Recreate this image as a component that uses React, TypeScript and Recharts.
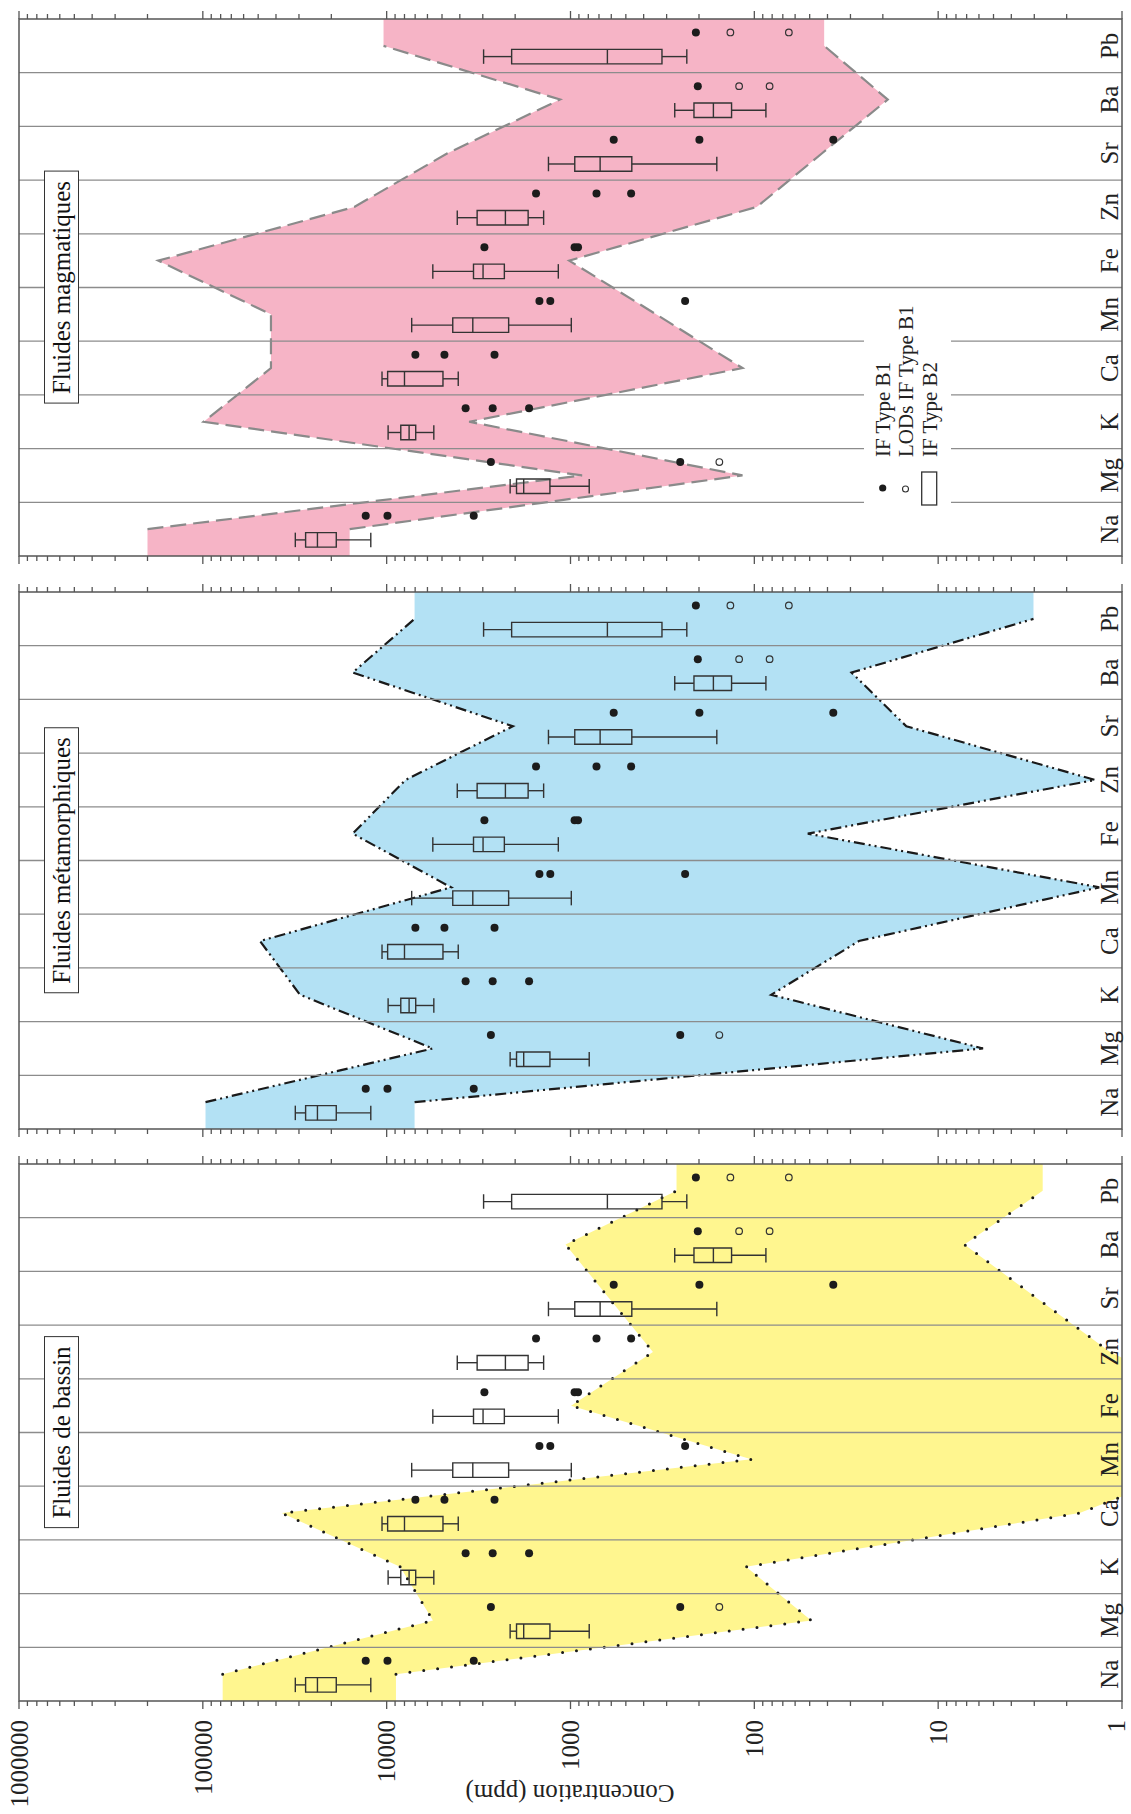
import React from 'react';
import {
  Area,
  ComposedChart,
  ReferenceArea,
  ReferenceLine,
  Scatter,
  XAxis,
  YAxis
} from 'recharts';

const elements = ['Na', 'Mg', 'K', 'Ca', 'Mn', 'Fe', 'Zn', 'Sr', 'Ba', 'Pb'];
const decades = [1, 10, 100, 1000, 10000, 100000, 1000000];

// IF Type B2 box plots (ppm)
const b2Min = [12200, 791, 5540, 4080, 990, 1165, 1400, 160, 86.5, 233];
const b2Q1 = [18800, 1294, 6950, 4940, 2170, 2290, 1700, 464, 133, 318];
const b2Median = [23800, 1797, 7550, 8000, 3400, 2990, 2260, 690, 167, 630];
const b2Q3 = [27600, 1966, 8380, 9880, 4370, 3370, 3220, 948, 213, 2090];
const b2Max = [31400, 2130, 9820, 10600, 7310, 5610, 4130, 1318, 271, 2970];

// IF Type B1 analyses and detection limits (ppm)
const b1Values = [
  [13000, 9900, 3360],
  [2710, 253],
  [3720, 2650, 1680],
  [6980, 4850, 2590],
  [1476, 1288, 238],
  [2940, 950, 910],
  [1540, 722, 468],
  [582, 199, 37.2],
  [203],
  [208]
];
const b1Lods = [[], [155], [], [], [], [], [], [], [121, 82.6], [135, 64.9]];

// reference envelopes (upper / lower limit per element)
const bassinHigh = [78000, 5600, 8450, 37200, 104, 993, 356, 617, 1064, 265];
const bassinLow = [8900, 49, 111, 1.7, 0.3, 0.3, 1.16, 2.9, 7.2, 2.7];
const metaHigh = [96700, 5610, 29600, 48900, 4460, 15300, 7900, 2060, 15300, 7050];
const metaLow = [7050, 5.7, 80.9, 27, 1.33, 51.2, 1.4, 14.9, 29.6, 3.03];
const magHigh = [200000, 865, 99000, 42600, 42600, 175000, 15000, 4670, 1140, 10400];
const magLow = [15900, 116, 3560, 116, 342, 1016, 97, 42.8, 18.8, 41.7];

const FONT = "'Liberation Serif', 'Times New Roman', serif";
const BOX_POS = 0.3;
const DOT_POS = 0.75;
const HALF = 0.135;

const logTicks = decades.flatMap((d) => (d === 1000000 ? [d] : [1, 2, 3, 4, 5, 6, 7, 8, 9].map((m) => m * d)));
const centres = elements.map((_, i) => i + 0.5);

const filled = b1Values.flatMap((vals, i) => vals.map((y) => ({ x: i + DOT_POS, y })));
const lods = b1Lods.flatMap((vals, i) => vals.map((y) => ({ x: i + DOT_POS, y })));

const FilledDot = (p: any) => <circle cx={p.cx} cy={p.cy} r={4} fill="#1c1c1c" />;
const OpenDot = (p: any) => (
  <circle cx={p.cx} cy={p.cy} r={3.3} fill="none" stroke="#333" strokeWidth={1.2} />
);

const LogTick = (p: any) => {
  const major = decades.includes(p.payload.value);
  const len = major ? 8 : 5;
  const dir = p.side === 'left' ? -1 : 1;
  // keep the "1" label inside the page edge
  const shift = p.payload.value === 1 ? -6 : 0;
  return (
    <g>
      <line x1={p.x} y1={p.y} x2={p.x + dir * len} y2={p.y} stroke="#555" strokeWidth={1.3} />
      {p.labels && major && (
        <text x={p.x - 19} y={p.y + shift} dy="0.35em" textAnchor="end" fontSize={25} fontFamily={FONT} fill="#222">
          {p.payload.value}
        </text>
      )}
    </g>
  );
};

const ElementTick = (p: any) => (
  <text x={p.x} y={p.y - 4} textAnchor="middle" fontSize={25} fontFamily={FONT} fill="#222">
    {elements[Math.floor(p.payload.value)]}
  </text>
);

interface PanelProps {
  high: number[];
  low: number[];
  fill: string;
  stroke: string;
  dash: string;
  strokeWidth: number;
  cap: 'round' | 'butt';
  width: number;
  leftWidth: number;
  rightWidth: number;
  labels?: boolean;
}

const Panel: React.FC<PanelProps> = ({
  high, low, fill, stroke, dash, strokeWidth, cap, width, leftWidth, rightWidth, labels
}) => {
  const fillData = [
    { x: 0, band: [low[0], high[0]] },
    ...elements.map((_, i) => ({ x: i + 0.5, band: [low[i], high[i]] })),
    { x: 10, band: [low[9], high[9]] }
  ];
  const edgeData = elements.map((_, i) => ({ x: i + 0.5, band: [low[i], high[i]] }));

  return (
    <ComposedChart width={width} height={1131} margin={{ top: 19, right: 0, bottom: 8, left: 0 }}>
      <XAxis
        type="number"
        dataKey="x"
        domain={[0, 10]}
        allowDataOverflow
        ticks={centres}
        interval={0}
        height={1}
        axisLine={false}
        tickLine={false}
        tickSize={0}
        tickMargin={0}
        tick={(p: any) => <ElementTick {...p} />}
      />
      <YAxis
        type="number"
        scale="log"
        domain={[1, 1000000]}
        allowDataOverflow
        ticks={logTicks}
        interval={0}
        width={leftWidth}
        axisLine={false}
        tickLine={false}
        tickSize={0}
        tickMargin={0}
        tick={(p: any) => <LogTick {...p} side="left" labels={labels} />}
      />
      <YAxis
        yAxisId="r"
        orientation="right"
        type="number"
        scale="log"
        domain={[1, 1000000]}
        allowDataOverflow
        ticks={logTicks}
        interval={0}
        width={rightWidth}
        axisLine={false}
        tickLine={false}
        tickSize={0}
        tickMargin={0}
        tick={(p: any) => <LogTick {...p} side="right" />}
      />
      <Area
        data={fillData}
        dataKey="band"
        type="linear"
        fill={fill}
        fillOpacity={1}
        stroke="none"
        isAnimationActive={false}
      />
      <Area
        data={edgeData}
        dataKey="band"
        type="linear"
        fill="none"
        stroke={stroke}
        strokeWidth={strokeWidth}
        strokeDasharray={dash}
        strokeLinecap={cap}
        isAnimationActive={false}
      />
      {elements.slice(1).map((_, k) => (
        <ReferenceLine key={`g${k}`} x={k + 1} stroke="#8c8c8c" strokeWidth={1.3} zIndex={150} />
      ))}
      {elements.map((el, i) => {
        const c = i + BOX_POS;
        const seg = (x1: number, y1: number, x2: number, y2: number, key: string) => (
          <ReferenceLine
            key={key}
            segment={[{ x: x1, y: y1 }, { x: x2, y: y2 }]}
            stroke="#333"
            strokeWidth={1.4}
            zIndex={700}
          />
        );
        return (
          <React.Fragment key={el}>
            {seg(c, b2Min[i], c, b2Q1[i], `wl${i}`)}
            {seg(c, b2Q3[i], c, b2Max[i], `wh${i}`)}
            {seg(c - HALF, b2Min[i], c + HALF, b2Min[i], `cl${i}`)}
            {seg(c - HALF, b2Max[i], c + HALF, b2Max[i], `ch${i}`)}
            <ReferenceArea
              x1={c - HALF}
              x2={c + HALF}
              y1={b2Q1[i]}
              y2={b2Q3[i]}
              fill="none"
              stroke="#333"
              strokeWidth={1.4}
              zIndex={700}
            />
            {seg(c - HALF, b2Median[i], c + HALF, b2Median[i], `md${i}`)}
          </React.Fragment>
        );
      })}
      <Scatter data={filled} dataKey="y" shape={FilledDot} isAnimationActive={false} />
      <Scatter data={lods} dataKey="y" shape={OpenDot} isAnimationActive={false} />
      <ReferenceArea
        x1={0}
        x2={10}
        y1={1}
        y2={1000000}
        fill="none"
        stroke="#555"
        strokeWidth={1.5}
        ifOverflow="visible"
        zIndex={800}
      />
    </ComposedChart>
  );
};

const titleStyle = (centre: number): React.CSSProperties => ({
  position: 'absolute',
  left: centre,
  top: 44,
  transform: 'translateX(-50%)',
  border: '1.5px solid #333',
  background: '#fff',
  padding: '0 9px',
  fontSize: 25,
  lineHeight: '33px',
  whiteSpace: 'nowrap',
  color: '#111'
});

export default function App() {
  return (
    <div
      style={{
        position: 'absolute',
        left: 0,
        top: 0,
        width: 1131,
        height: 1814,
        overflow: 'hidden',
        background: '#fff'
      }}
    >
      <div
        style={{
          position: 'absolute',
          left: 0,
          top: 0,
          width: 1814,
          height: 1131,
          transformOrigin: '0 0',
          transform: 'translateY(1814px) rotate(-90deg)',
          fontFamily: FONT
        }}
      >
        <div style={{ position: 'absolute', left: 0, top: 0 }}>
          <Panel
            high={bassinHigh}
            low={bassinLow}
            fill="#fff68f"
            stroke="#1a1a1a"
            dash="0 14"
            strokeWidth={3}
            cap="round"
            width={670}
            leftWidth={113}
            rightWidth={20}
            labels
          />
        </div>
        <div style={{ position: 'absolute', left: 665, top: 0 }}>
          <Panel
            high={metaHigh}
            low={metaLow}
            fill="#b3e1f4"
            stroke="#1a1a1a"
            dash="11 4 2 4 2 4"
            strokeWidth={2.2}
            cap="butt"
            width={577}
            leftWidth={20}
            rightWidth={20}
          />
        </div>
        <div style={{ position: 'absolute', left: 1238, top: 0 }}>
          <Panel
            high={magHigh}
            low={magLow}
            fill="#f6b4c6"
            stroke="#8a8a8a"
            dash="16 7"
            strokeWidth={2.2}
            cap="butt"
            width={576}
            leftWidth={20}
            rightWidth={19}
          />
        </div>

        <div style={titleStyle(381.5)}>Fluides de bassin</div>
        <div style={titleStyle(953.5)}>Fluides métamorphiques</div>
        <div style={titleStyle(1526.5)}>Fluides magmatiques</div>

        <div
          style={{
            position: 'absolute',
            left: 21,
            top: 570,
            transform: 'translate(-50%, -50%) rotate(-90deg)',
            fontSize: 25,
            whiteSpace: 'nowrap',
            color: '#222'
          }}
        >
          Concentration (ppm)
        </div>

        <svg
          style={{ position: 'absolute', left: 1294, top: 864 }}
          width={224}
          height={87}
        >
          <rect x={0} y={0} width={224} height={87} fill="#fff" />
          <circle cx={32} cy={18.7} r={3.6} fill="#1c1c1c" />
          <circle cx={31} cy={41.5} r={3} fill="none" stroke="#333" strokeWidth={1.1} />
          <rect x={15} y={57.7} width={33} height={15} fill="none" stroke="#333" strokeWidth={1.3} />
          {['IF Type B1', 'LODs IF Type B1', 'IF Type B2'].map((t, i) => (
            <text
              key={t}
              x={63}
              y={18.7 + i * 23.3}
              dy="0.35em"
              fontSize={21}
              fontFamily={FONT}
              fill="#222"
            >
              {t}
            </text>
          ))}
        </svg>
      </div>
    </div>
  );
}
